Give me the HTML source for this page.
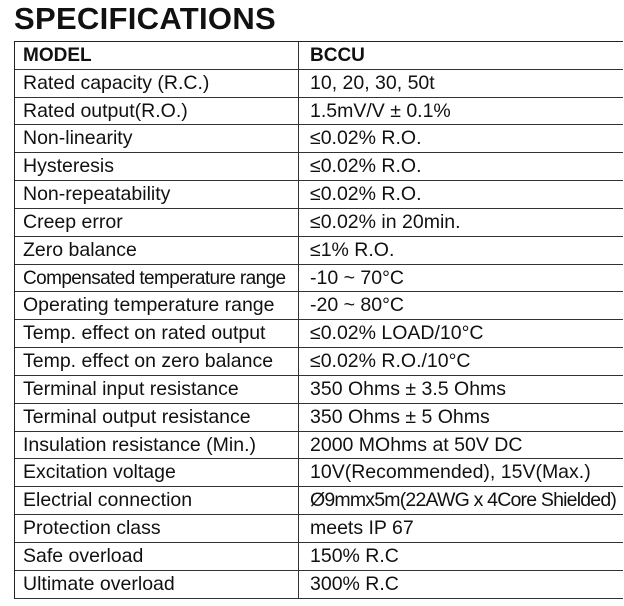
<!DOCTYPE html>
<html><head><meta charset="utf-8"><style>
body{margin:0;width:624px;height:606px;background:#fff;position:relative;overflow:hidden;font-family:"Liberation Sans",Arial,sans-serif;color:#111}
h1{position:absolute;left:14px;top:1px;margin:0;font-size:31px;font-weight:bold;letter-spacing:0.3px}
.t{position:absolute;left:14px;top:41px;width:608px;border-left:1.5px solid #222;border-top:1.5px solid #222}
.r{height:26.84px;border-bottom:1px solid #333;position:relative;font-size:19.5px;line-height:27px}
.r span{position:absolute;top:0;white-space:nowrap}
.a{left:8px}.b{left:295px}
.v{position:absolute;left:298px;top:41px;width:1px;height:557px;background:#333}
</style></head><body>
<h1>SPECIFICATIONS</h1>
<div class="v"></div>
<div class="t">
<div class="r" style="font-weight:bold;font-size:19px"><span class="a">MODEL</span><span class="b">BCCU</span></div>
<div class="r"><span class="a">Rated capacity (R.C.)</span><span class="b">10, 20, 30, 50t</span></div>
<div class="r"><span class="a">Rated output(R.O.)</span><span class="b">1.5mV/V ± 0.1%</span></div>
<div class="r"><span class="a">Non-linearity</span><span class="b">≤0.02% R.O.</span></div>
<div class="r"><span class="a">Hysteresis</span><span class="b">≤0.02% R.O.</span></div>
<div class="r"><span class="a">Non-repeatability</span><span class="b">≤0.02% R.O.</span></div>
<div class="r"><span class="a">Creep error</span><span class="b">≤0.02% in 20min.</span></div>
<div class="r"><span class="a">Zero balance</span><span class="b">≤1% R.O.</span></div>
<div class="r"><span class="a" style="font-size:19px;letter-spacing:-0.6px">Compensated temperature range</span><span class="b">-10 ~ 70°C</span></div>
<div class="r"><span class="a">Operating temperature range</span><span class="b">-20 ~ 80°C</span></div>
<div class="r"><span class="a">Temp. effect on rated output</span><span class="b">≤0.02% LOAD/10°C</span></div>
<div class="r"><span class="a">Temp. effect on zero balance</span><span class="b">≤0.02% R.O./10°C</span></div>
<div class="r"><span class="a">Terminal input resistance</span><span class="b">350 Ohms ± 3.5 Ohms</span></div>
<div class="r"><span class="a">Terminal output resistance</span><span class="b">350 Ohms ± 5 Ohms</span></div>
<div class="r"><span class="a">Insulation resistance (Min.)</span><span class="b">2000 MOhms at 50V DC</span></div>
<div class="r"><span class="a">Excitation voltage</span><span class="b">10V(Recommended), 15V(Max.)</span></div>
<div class="r"><span class="a">Electrial connection</span><span class="b" style="letter-spacing:-0.8px">Ø9mmx5m(22AWG x 4Core Shielded)</span></div>
<div class="r"><span class="a">Protection class</span><span class="b">meets IP 67</span></div>
<div class="r"><span class="a">Safe overload</span><span class="b">150% R.C</span></div>
<div class="r"><span class="a">Ultimate overload</span><span class="b">300% R.C</span></div>
</div>
</body></html>
